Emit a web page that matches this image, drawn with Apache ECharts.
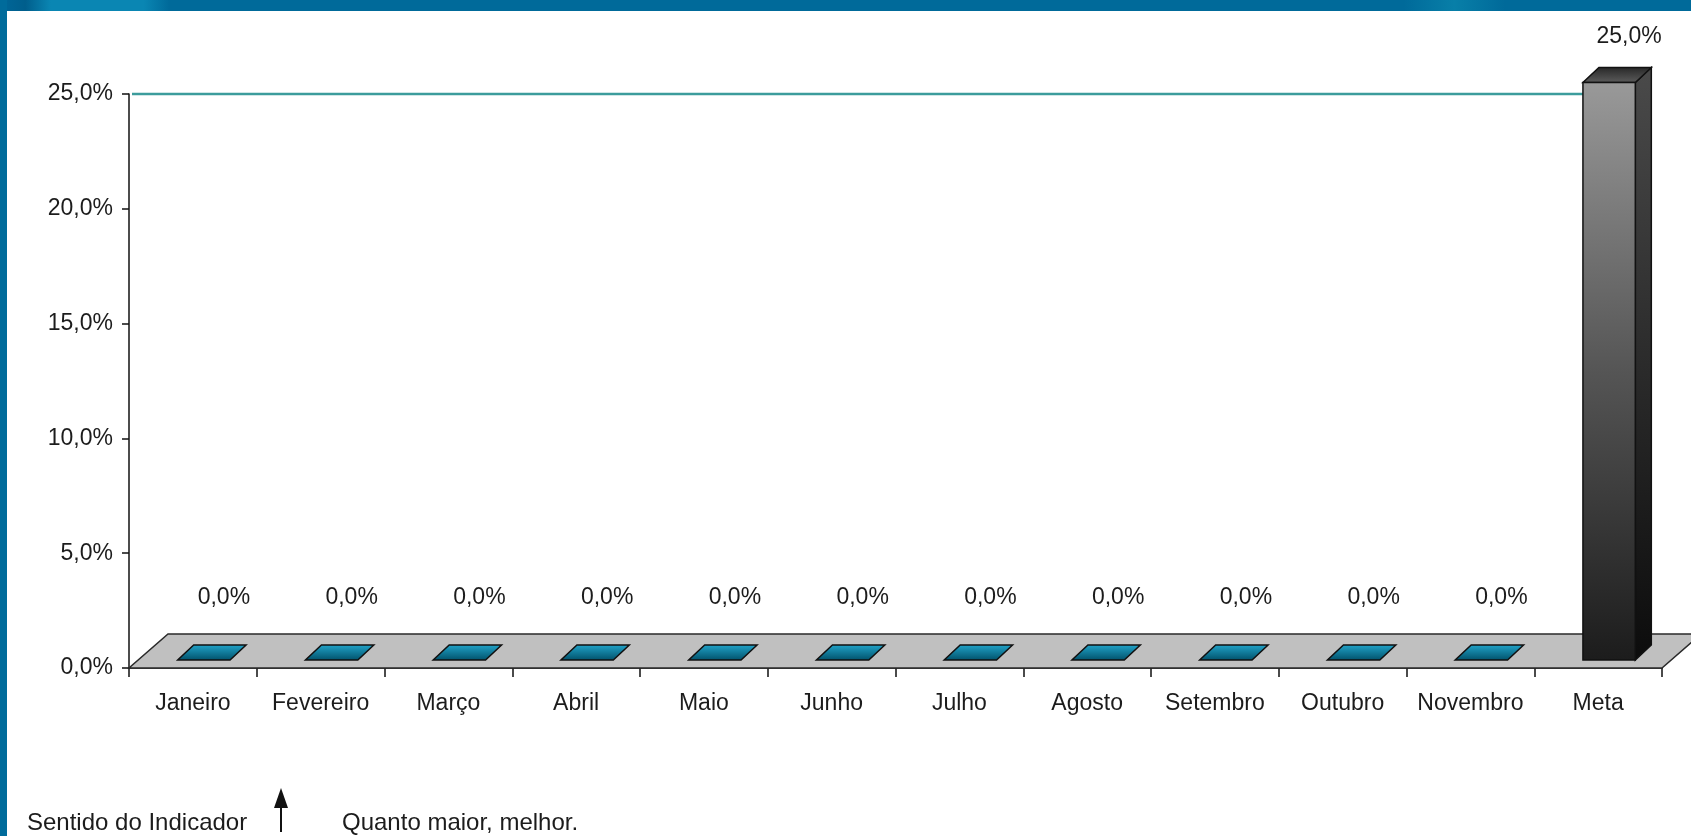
<!DOCTYPE html>
<html>
<head>
<meta charset="utf-8">
<script src="https://cdn.jsdelivr.net/npm/echarts@6/dist/echarts.min.js"></script>
<style>
  html, body { margin: 0; padding: 0; background: #ffffff; }
  #chart { width: 1691px; height: 836px; }
</style>
</head>
<body>
<div id="chart"></div>
<script>
const categories = ['Janeiro', 'Fevereiro', 'Março', 'Abril', 'Maio', 'Junho', 'Julho', 'Agosto', 'Setembro', 'Outubro', 'Novembro', 'Meta'];
const values = [0, 0, 0, 0, 0, 0, 0, 0, 0, 0, 0, 25];
const yMin = 0, yMax = 25, yStep = 5;
const targetValue = 25;
const targetCategory = 'Meta';
const footerLabel = 'Sentido do Indicador';
const footerText = 'Quanto maior, melhor.';

const FONT = '"Liberation Sans", Arial, sans-serif';
const TXT = '#1c1c1c';
const fmt = v => v.toFixed(1).replace('.', ',') + '%';

const chart = echarts.init(document.getElementById('chart'), null, { renderer: 'canvas' });

const DX = 16, DY = -15;      // bar depth
const FRONT_X = 11, FRONT_Y = -8;
const FLOOR_DX = 39, FLOOR_DY = -34;

function barItem(params, api) {
  const i = api.value(0), v = api.value(1);
  const base = api.coord([i, 0]);
  const top = api.coord([i, v]);
  const bw = api.size([1, 0])[0];
  const w = bw * 0.41;
  const cx = base[0] + FRONT_X;
  const x0 = cx - w / 2, x1 = cx + w / 2;
  const yb = base[1] + FRONT_Y;
  const yt = top[1] + FRONT_Y - (base[1] - top[1]) * 0.006;
  const children = [];
  const stroke = { stroke: '#111', lineWidth: 1.5 };
  if (v === 0) {
    children.push({
      type: 'polygon',
      shape: { points: [[x0, yb], [x1, yb], [x1 + DX, yb + DY], [x0 + DX, yb + DY]] },
      style: Object.assign({
        fill: new echarts.graphic.LinearGradient(0, 0, 0, 1, [
          { offset: 0, color: '#22a6cc' },
          { offset: 1, color: '#004f68' }
        ])
      }, stroke)
    });
  } else {
    children.push({
      type: 'polygon',
      shape: { points: [[x1, yb], [x1, yt], [x1 + DX, yt + DY], [x1 + DX, yb + DY]] },
      style: Object.assign({
        fill: new echarts.graphic.LinearGradient(0, 0, 0, 1, [
          { offset: 0, color: '#4a4a4a' },
          { offset: 1, color: '#0c0c0c' }
        ])
      }, stroke)
    });
    children.push({
      type: 'polygon',
      shape: { points: [[x0, yt], [x1, yt], [x1 + DX, yt + DY], [x0 + DX, yt + DY]] },
      style: Object.assign({
        fill: new echarts.graphic.LinearGradient(0, 1, 0, 0, [
          { offset: 0, color: '#5e5e5e' },
          { offset: 1, color: '#262626' }
        ])
      }, stroke)
    });
    children.push({
      type: 'rect',
      shape: { x: x0, y: yt, width: w, height: yb - yt },
      style: Object.assign({
        fill: new echarts.graphic.LinearGradient(0, 0, 0, 1, [
          { offset: 0, color: '#999999' },
          { offset: 0.5, color: '#555555' },
          { offset: 1, color: '#1c1c1c' }
        ])
      }, stroke)
    });
  }
  const ly = v > 0 ? yt - 46 : yb - 62;
  children.push({
    type: 'text',
    style: {
      text: fmt(v), x: cx + 20, y: ly,
      align: 'center', verticalAlign: 'middle',
      fill: TXT, font: '23px ' + FONT
    }
  });
  return { type: 'group', children };
}

function floorItem(params, api) {
  const cs = params.coordSys;
  const yb = cs.y + cs.height;
  return {
    type: 'polygon',
    shape: { points: [[cs.x, yb], [cs.x + cs.width, yb], [cs.x + cs.width + FLOOR_DX, yb + FLOOR_DY], [cs.x + FLOOR_DX, yb + FLOOR_DY]] },
    style: { fill: '#c0c0c0', stroke: '#2a2a2a', lineWidth: 1.5 }
  };
}

function targetItem(params, api) {
  const cs = params.coordSys;
  const idx = api.value(0);
  const p = api.coord([idx, api.value(1)]);
  const bw = api.size([1, 0])[0];
  const xEnd = p[0] + FRONT_X - bw * 0.41 / 2;
  return {
    type: 'line',
    shape: { x1: cs.x + 3, y1: p[1], x2: xEnd, y2: p[1] },
    style: { stroke: '#3c9c9c', lineWidth: 2.5 }
  };
}

const option = {
  backgroundColor: '#ffffff',
  animation: false,
  grid: { left: 129, right: 29, top: 94, bottom: 168, containLabel: false },
  xAxis: {
    type: 'category',
    data: categories,
    boundaryGap: true,
    axisLine: { lineStyle: { color: '#111', width: 1.5 } },
    axisTick: { show: true, length: 9, lineStyle: { color: '#111', width: 1.5 } },
    axisLabel: { color: TXT, fontSize: 23, fontFamily: FONT, margin: 24, interval: 0 },
    splitLine: { show: false }
  },
  yAxis: {
    type: 'value',
    min: yMin, max: yMax, interval: yStep,
    axisLine: { show: true, lineStyle: { color: '#111', width: 1.5 } },
    axisTick: { show: true, length: 7, lineStyle: { color: '#111', width: 1.5 } },
    axisLabel: { color: TXT, fontSize: 23, fontFamily: FONT, margin: 16, padding: [6, 0, 0, 0], formatter: v => fmt(v) },
    splitLine: { show: false }
  },
  series: [
    { type: 'custom', name: 'floor', renderItem: floorItem, data: [[0, 0]], z: 1, silent: true },
    { type: 'custom', name: 'target', renderItem: targetItem, data: [[categories.indexOf(targetCategory), targetValue]], z: 2, silent: true },
    { type: 'custom', name: 'values', renderItem: barItem, data: values.map((v, i) => [i, v]), z: 3 }
  ],
  graphic: [
    {
      type: 'rect', left: 0, top: 0, z: 100,
      shape: { width: 1691, height: 11 },
      style: {
        fill: new echarts.graphic.LinearGradient(0, 0, 1, 0, [
          { offset: 0, color: '#006799' },
          { offset: 0.015, color: '#005e8c' },
          { offset: 0.03, color: '#0a86b3' },
          { offset: 0.085, color: '#0a86b3' },
          { offset: 0.1, color: '#006a9a' },
          { offset: 0.83, color: '#006a9a' },
          { offset: 0.86, color: '#087fa8' },
          { offset: 0.89, color: '#006a9a' },
          { offset: 1, color: '#006a9a' }
        ])
      }
    },
    {
      type: 'rect', left: 0, top: 0, z: 100,
      shape: { width: 7, height: 836 },
      style: { fill: '#006b9b' }
    },
    {
      type: 'text', left: 27, top: 811, z: 100,
      style: { text: footerLabel, fill: TXT, font: '24px ' + FONT }
    },
    {
      type: 'group', z: 100,
      children: [
        { type: 'line', shape: { x1: 281, y1: 806, x2: 281, y2: 832 }, style: { stroke: '#111', lineWidth: 2 } },
        { type: 'polygon', shape: { points: [[274, 808], [288, 808], [281, 788]] }, style: { fill: '#111' } }
      ]
    },
    {
      type: 'text', left: 342, top: 811, z: 100,
      style: { text: footerText, fill: TXT, font: '24px ' + FONT }
    }
  ]
};

chart.setOption(option);
</script>
</body>
</html>
